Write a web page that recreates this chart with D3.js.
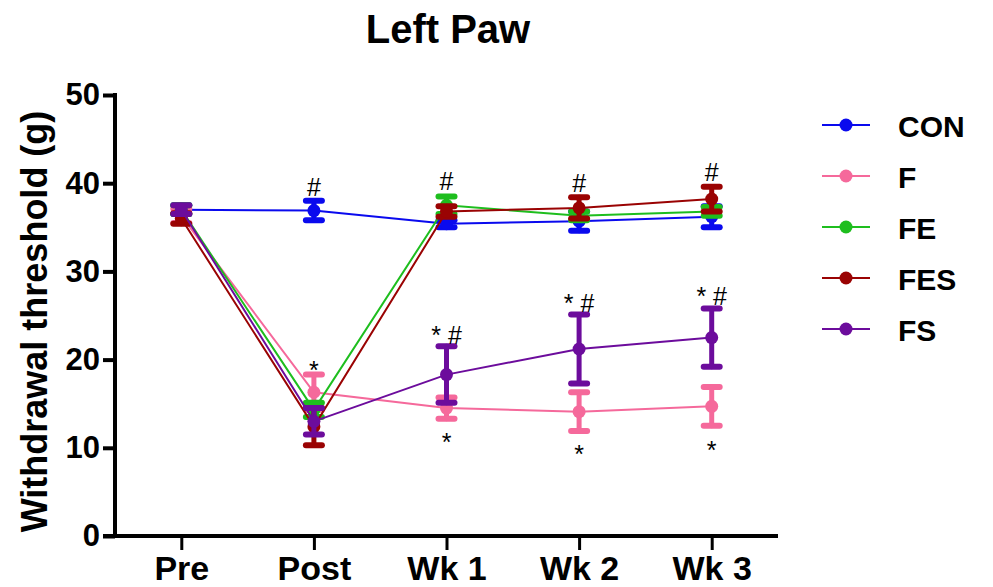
<!DOCTYPE html>
<html>
<head>
<meta charset="utf-8">
<script src="https://cdn.jsdelivr.net/npm/d3@7"></script>
<style>
  body { margin: 0; background: #fff; }
  svg text { font-family: "Liberation Sans", Arial, sans-serif; font-weight: bold; }
</style>
</head>
<body>
<svg id="chart" width="993" height="587"></svg>
<script>
// data (mean and SEM, grams)
var categories = ["Pre", "Post", "Wk 1", "Wk 2", "Wk 3"];
var groups = ["CON", "F", "FE", "FES", "FS"];
var yTicks = [0, 10, 20, 30, 40, 50];

var conMean = [37.0, 36.9, 35.4, 35.7, 36.2],
    conSem  = [0.5, 1.1, 0.4, 1.1, 1.2];
var fMean   = [36.3, 16.3, 14.5, 14.1, 14.7],
    fSem    = [0.8, 2.0, 1.2, 2.2, 2.2];
var feMean  = [37.0, 14.3, 37.5, 36.3, 36.8],
    feSem   = [0.5, 0.8, 1.0, 0.5, 0.5];
var fesMean = [36.0, 12.4, 36.8, 37.2, 38.2],
    fesSem  = [0.6, 2.1, 0.6, 1.2, 1.4];
var fsMean  = [37.0, 13.0, 18.3, 21.2, 22.5],
    fsSem   = [0.5, 1.5, 3.2, 3.9, 3.3];

// significance marks: category, value of the text baseline, label
var sigCats   = ["Post", "Post", "Wk 1", "Wk 1", "Wk 1", "Wk 2", "Wk 2", "Wk 2", "Wk 3", "Wk 3", "Wk 3"],
    sigValues = [38.6, 17.8, 39.2, 21.8, 9.6, 39.0, 25.4, 8.3, 40.3, 26.2, 8.7],
    sigLabels = ["#", "*", "#", "* #", "*", "#", "* #", "*", "#", "* #", "*"];

var means = [conMean, fMean, feMean, fesMean, fsMean],
    sems = [conSem, fSem, feSem, fesSem, fsSem];

var colors = ["#0a0aee", "#f5699b", "#1ebe1e", "#9a0303", "#6c0c9c"];

var svg = d3.select("#chart");

var x = d3.scalePoint().domain(categories).range([115, 778]).padding(0.5),
    y = d3.scaleLinear().domain([0, 50]).range([536, 95]),
    color = d3.scaleOrdinal().domain(groups).range(colors);

// title
svg.append("text")
    .attr("x", 448)
    .attr("y", 43)
    .attr("text-anchor", "middle")
    .style("font-size", "40px")
    .text("Left Paw");

// y axis label
svg.append("text")
    .attr("transform", "translate(47," + ((y(0) + y(50)) / 2 + 6) + ") rotate(-90)")
    .attr("text-anchor", "middle")
    .style("font-size", "36px")
    .text("Withdrawal threshold (g)");

// series
groups.forEach(function(name, i) {
  var pts = categories.map(function(c, j) {
    return {cat: c, mean: means[i][j], sem: sems[i][j]};
  });
  var g = svg.append("g").attr("class", "series");

  g.append("path")
      .datum(pts)
      .attr("fill", "none")
      .attr("stroke", color(name))
      .attr("stroke-width", 2)
      .attr("d", d3.line()
        .x(function(d) { return x(d.cat); })
        .y(function(d) { return y(d.mean); }));

  var eb = g.selectAll(".err")
      .data(pts)
    .enter().append("g")
      .attr("class", "err")
      .attr("stroke", color(name))
      .attr("stroke-linecap", "round");

  eb.append("line")
      .attr("stroke-width", 5)
      .attr("x1", function(d) { return x(d.cat); })
      .attr("x2", function(d) { return x(d.cat); })
      .attr("y1", function(d) { return y(d.mean + d.sem); })
      .attr("y2", function(d) { return y(d.mean - d.sem); });

  [1, -1].forEach(function(s) {
    eb.append("line")
        .attr("stroke-width", 6)
        .attr("x1", function(d) { return x(d.cat) - 8; })
        .attr("x2", function(d) { return x(d.cat) + 8; })
        .attr("y1", function(d) { return y(d.mean + s * d.sem); })
        .attr("y2", function(d) { return y(d.mean + s * d.sem); });
  });

  g.selectAll(".dot")
      .data(pts)
    .enter().append("circle")
      .attr("class", "dot")
      .attr("cx", function(d) { return x(d.cat); })
      .attr("cy", function(d) { return y(d.mean); })
      .attr("r", 6.5)
      .attr("fill", color(name));
});

// significance marks
svg.selectAll(".sig")
    .data(sigLabels)
  .enter().append("text")
    .attr("class", "sig")
    .attr("x", function(d, i) { return x(sigCats[i]); })
    .attr("y", function(d, i) { return y(sigValues[i]); })
    .attr("text-anchor", "middle")
    .style("font-weight", "normal")
    .style("font-size", "25px")
    .text(function(d) { return d; });

// y axis
var yAxis = svg.append("g")
    .attr("transform", "translate(115,0)")
    .call(d3.axisLeft(y).tickValues(yTicks).tickSize(12).tickSizeOuter(0).tickPadding(3));

// x axis
var xAxis = svg.append("g")
    .attr("transform", "translate(0," + y(0) + ")")
    .call(d3.axisBottom(x).tickSize(14).tickSizeOuter(0).tickPadding(6));

yAxis.select(".domain").attr("stroke-width", 4).attr("d", "M0," + (y(50) - 2) + "V" + y(0));
yAxis.selectAll(".tick line").attr("stroke-width", 4);
yAxis.selectAll(".tick text")
    .attr("fill", "#000")
    .style("font-family", "'Liberation Sans', Arial, sans-serif")
    .style("font-weight", "bold")
    .style("font-size", "31px");

xAxis.select(".domain").attr("stroke-width", 4).attr("d", "M103,0H778");
xAxis.selectAll(".tick line").attr("stroke-width", 3);
xAxis.selectAll(".tick text")
    .attr("fill", "#000")
    .style("font-family", "'Liberation Sans', Arial, sans-serif")
    .style("font-weight", "bold")
    .style("font-size", "34px");

// legend
var legend = svg.selectAll(".legend")
    .data(groups)
  .enter().append("g")
    .attr("class", "legend")
    .attr("transform", function(d, i) { return "translate(822," + (125 + i * 51) + ")"; });

legend.append("line")
    .attr("x1", 0)
    .attr("x2", 48)
    .attr("stroke", function(d) { return color(d); })
    .attr("stroke-width", 2);

legend.append("circle")
    .attr("cx", 24)
    .attr("r", 6.5)
    .attr("fill", function(d) { return color(d); });

legend.append("text")
    .attr("x", 76)
    .attr("y", 11.5)
    .style("font-size", "30px")
    .text(function(d) { return d; });
</script>
</body>
</html>
